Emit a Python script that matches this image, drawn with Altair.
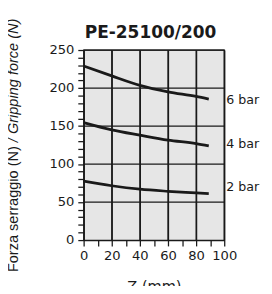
import altair as alt
import pandas as pd

# Data
z = [0, 20, 40, 60, 80, 89]
f6 = [229, 216, 203.5, 195, 189, 185.5]
f4 = [154.5, 145, 138, 131.5, 127, 124]
f2 = [77.5, 71.5, 67, 64.2, 62, 61]
series = ["6 bar", "4 bar", "2 bar"]
label_x = [101.5, 101.5, 101.5]
label_y = [183.5, 126.5, 69.5]
x_ticks = list(range(0, 101, 10))
y_ticks = list(range(0, 251, 10))
grid_x = [20, 40, 60, 80, 100]
grid_y = [50, 100, 150, 200, 250]
title_text = "PE-25100/200"
ytitle_roman = "Forza serraggio (N)"
ytitle_italic = "/ Gripping force (N)"
xtitle = "Z (mm)"

rows = []
for name, vals in zip(series, [f6, f4, f2]):
    for zz, v in zip(z, vals):
        rows.append({"z": zz, "force": v, "series": name})
df = pd.DataFrame(rows)
lab = pd.DataFrame({"series": series, "x": label_x, "y": label_y})

# grid lines as two-point paths
vrows = []
for i, gxv in enumerate(grid_x):
    vrows.append({"gx": gxv, "gyv": 0, "gid": "v%d" % i})
    vrows.append({"gx": gxv, "gyv": 250, "gid": "v%d" % i})
for i, gyv in enumerate(grid_y):
    vrows.append({"gx": 0, "gyv": gyv, "gid": "h%d" % i})
    vrows.append({"gx": 100, "gyv": gyv, "gid": "h%d" % i})
gdf = pd.DataFrame(vrows)
dummy = pd.DataFrame({"t": [0]})

W, H = 145, 196
INK = "#1a1a1a"
xs = alt.Scale(domain=[0, 100], nice=False, zero=False)
ys = alt.Scale(domain=[0, 250], nice=False)

xaxis = alt.Axis(
    values=x_ticks,
    labelExpr="datum.value % 20 === 0 ? datum.label : ''",
    labelOverlap=False,
    grid=True,
    gridColor=INK,
    gridWidth=1.3,
    gridOpacity={"condition": {"test": "datum.value % 20 === 0", "value": 1}, "value": 0},
    domainColor=INK, domainWidth=1.3,
    tickColor=INK, tickWidth=1.3, tickSize=6,
    labelFont="DejaVu Sans", labelFontSize=13.5, labelColor=INK,
    labelPadding=3, labelFlush=False,
    title=xtitle, titleFont="DejaVu Sans", titleFontSize=15,
    titleFontWeight="normal", titleColor=INK, titlePadding=18,
)
yaxis = alt.Axis(
    values=y_ticks,
    labelExpr="datum.value % 50 === 0 ? datum.label : ''",
    labelOverlap=False,
    grid=False,
    domainColor=INK, domainWidth=1.3,
    tickColor=INK, tickWidth=1.3, tickSize=6,
    labelFont="DejaVu Sans", labelFontSize=13.5, labelColor=INK,
    labelPadding=4, labelFlush=False,
    title=None,
)

grid = alt.Chart(gdf).mark_line(color=INK, strokeWidth=1.3).encode(
    x=alt.X("gx:Q", scale=xs, axis=xaxis),
    y=alt.Y("gyv:Q", scale=ys, axis=yaxis),
    detail="gid:N",
    order="gyv:Q",
)

lines = alt.Chart(df).mark_line(
    color=INK, strokeWidth=2.8, interpolate="monotone"
).encode(
    x=alt.X("z:Q", scale=xs, axis=xaxis),
    y=alt.Y("force:Q", scale=ys, axis=yaxis),
    detail="series:N",
)

labels = alt.Chart(lab).mark_text(
    align="left", baseline="middle", font="DejaVu Sans", fontSize=13, color=INK
).encode(
    x=alt.X("x:Q", scale=xs, axis=xaxis),
    y=alt.Y("y:Q", scale=ys, axis=yaxis),
    text="series:N",
)

yt1 = alt.Chart(dummy).mark_text(
    angle=270, align="left", baseline="middle",
    font="Liberation Sans", fontSize=15, color=INK,
).encode(x=alt.value(-73), y=alt.value(229), text=alt.value(ytitle_roman))

yt2 = alt.Chart(dummy).mark_text(
    angle=270, align="left", baseline="middle", fontStyle="italic",
    font="Liberation Sans", fontSize=15, color=INK,
).encode(x=alt.value(-73), y=alt.value(95), text=alt.value(ytitle_italic))

ttl = alt.Chart(dummy).mark_text(
    align="center", baseline="alphabetic",
    font="DejaVu Sans", fontSize=17.5, fontWeight="bold", color=INK,
).encode(x=alt.value(69), y=alt.value(-12), text=alt.value(title_text))

chart = alt.layer(grid, lines, labels, yt1, yt2, ttl).properties(
    width=W, height=H,
    autosize=alt.AutoSizeParams(type="none"),
    padding={"left": 78, "top": 39, "right": 41, "bottom": 43},
).configure_view(
    fill="#e6e6e6", stroke=INK, strokeWidth=1.3
)

chart.save("out.html", embed_options={"renderer": "svg", "actions": False})
